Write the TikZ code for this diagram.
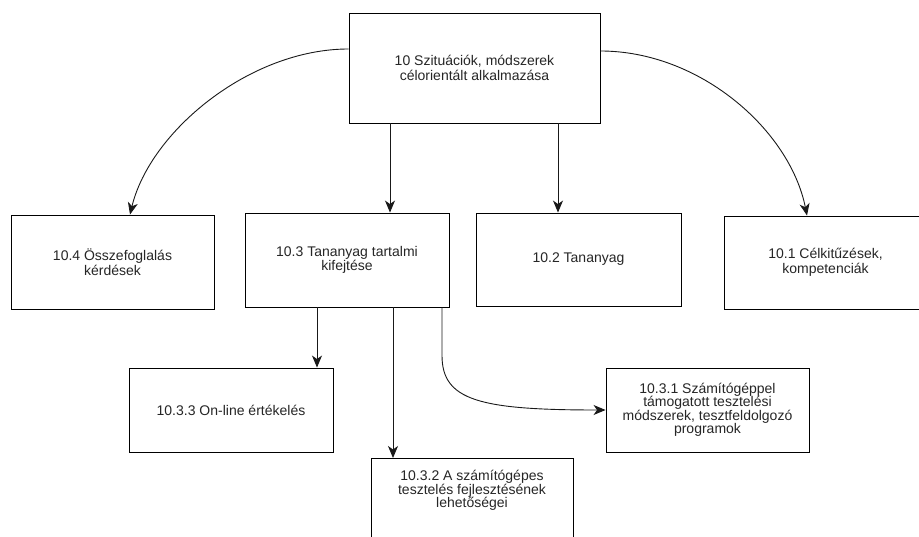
\documentclass[tikz,border=0pt]{standalone}
\usepackage{fontspec}
\setmainfont{Liberation Sans}
\usetikzlibrary{arrows.meta}
\begin{document}
\begin{tikzpicture}[x=1pt,y=-1pt,
  box/.style={draw=black, line width=0.9pt, fill=white, rectangle, inner sep=0pt,
    text=black!85, align=center, font=\fontsize{14}{14.5}\selectfont},
  arr/.style={draw=black!90, line width=0.9pt,
    -{Stealth[length=12pt,width=10pt,inset=3.5pt]}}]
  \useasboundingbox (0,0) rectangle (919,537);
  \begin{scope}
  \clip (0,0) rectangle (919,537);
  % boxes
  \node[box, minimum width=251, minimum height=110] (top) at (474.5,68)
    {10 Szituációk, módszerek\\ célorientált alkalmazása};
  \node[box, minimum width=203, minimum height=94] (b104) at (112.5,262)
    {10.4 Összefoglalás\\kérdések};
  \node[box, minimum width=204, minimum height=94] (b103) at (347,260)
    {10.3 Tananyag tartalmi\\kifejtése};
  \node[box, minimum width=205, minimum height=93] (b102) at (578.5,259.5)
    {10.2 Tananyag};
  \node[box, minimum width=203, minimum height=93] (b101) at (825.5,262.5)
    {10.1 Célkitűzések,\\ kompetenciák};
  \node[box, minimum width=204, minimum height=84] (b1033) at (231,410)
    {10.3.3 On-line értékelés};
  \node[box, minimum width=203, minimum height=84, font=\fontsize{14}{13.5}\selectfont] (b1031) at (707.5,410)
    {10.3.1 Számítógéppel\\támogatott tesztelési\\módszerek, tesztfeldolgozó\\programok};
  \node[box, minimum width=202, minimum height=100, anchor=north,
    label={[anchor=north, yshift=-9pt, align=center, text=black!85,
      font=\fontsize{14}{13.5}\selectfont]north:{10.3.2 A számítógépes\\tesztelés fejlesztésének\\lehetőségei}}]
    (b1032) at (472,458) {};
  % connectors
  \draw[arr] ([yshift=19pt]top.west) .. controls +(-99,0) and +(20,-83) .. ([xshift=17.5pt]b104.north);
  \draw[arr] ([xshift=-84.5pt]top.south) -- ([xshift=43pt]b103.north);
  \draw[arr] ([xshift=83.5pt]top.south) -- ([xshift=-20.5pt]b102.north);
  \draw[arr] ([yshift=17pt]top.east) .. controls +(100,0) and +(-17,-85) .. ([xshift=-18.5pt]b101.north);
  \draw[arr] ([xshift=-30pt]b103.south) -- ([xshift=86pt]b1033.north);
  \draw[arr] ([xshift=46pt]b103.south) -- ([xshift=-79pt]b1032.north);
  \draw[arr] ([xshift=95pt]b103.south) -- ++(0,48) .. controls +(0,45) and +(-126,0) .. (b1031.west);
  \end{scope}
\end{tikzpicture}
\end{document}
